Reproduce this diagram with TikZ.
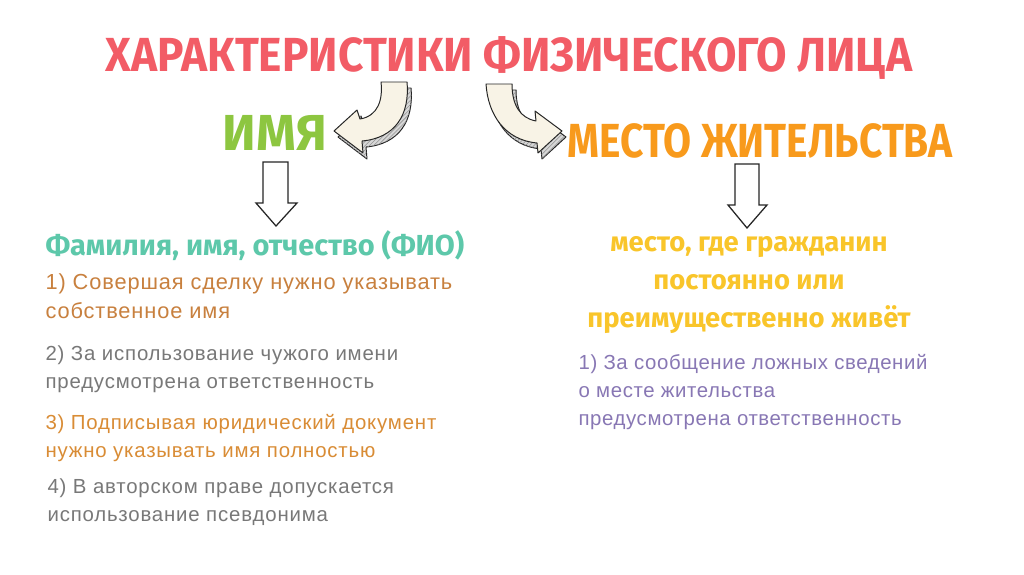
\documentclass[tikz,border=0pt]{standalone}
\usepackage{fontspec}
\setmainfont{Liberation Sans}
\newfontfamily\headfont{Fira Sans}
\usetikzlibrary{positioning, patterns}
\definecolor{cred}{HTML}{F25C66}
\definecolor{cgreen}{HTML}{8DC640}
\definecolor{corange}{HTML}{F89A1C}
\definecolor{cteal}{HTML}{5DC8AA}
\definecolor{cbrown}{HTML}{C8803E}
\definecolor{camber}{HTML}{D98C35}
\definecolor{cgrey}{HTML}{787878}
\definecolor{cyellow}{HTML}{F9C52A}
\definecolor{cpurple}{HTML}{8877B4}
\definecolor{ccream}{HTML}{F8F3E6}
\tikzset{
  every picture/.style={line width=0.8pt},
  head/.style={font=\headfont\bfseries\fontsize{#1}{#1}\selectfont, inner sep=0pt, anchor=base},
  head/.default=34,
  item/.style={text=#1, font=\fontsize{14.5}{19.9}\selectfont\addfontfeature{LetterSpace=4}, align=left, anchor=base west, inner sep=0pt},
  item/.default=cgrey,
  face/.style={draw=black!85, fill=ccream, line join=round, line width=0.7pt},
  side/.style={draw=black!85, fill=cgrey!30, line join=round, line width=0.7pt,
    postaction={pattern=north east lines, pattern color=cgrey!80}},
  hollow/.style={draw=black!85, fill=white, line join=miter, line width=0.9pt},
}

\begin{document}
\begin{tikzpicture}[x=0.025cm, y=-0.025cm]
  \useasboundingbox[fill=white] (0,0) rectangle (1024,574);

  % headings
  \node[head, text=cred] (title) at (509,71) {\scalebox{0.925}[1]{ХАРАКТЕРИСТИКИ ФИЗИЧЕСКОГО ЛИЦА}};
  \node[head=36, text=cgreen] (name) at (275,150) {ИМЯ};
  \node[head, text=corange] (home) at (760,157) {\scalebox{0.85}[1]{МЕСТО ЖИТЕЛЬСТВА}};

  % curved arrows from the title
  \foreach \dx/\dy/\sty in {4/6/side, 0/0/face} {
    \draw[\sty, shift={(\dx,\dy)}] (381,82) -- (407,82) .. controls (410,115) and (395,138) .. (362,141)
      -- (363,153) -- (334,131) -- (357,110) -- (360,119) .. controls (378,116) and (383,100) .. (381,82) -- cycle;
    \draw[\sty, shift={(\dx,\dy)}] (486,84) -- (512,84) .. controls (512,105) and (520,118) .. (536,121)
      -- (535,111) -- (562,131) -- (538,153) -- (537,143) .. controls (505,140) and (488,115) .. (486,84) -- cycle;
  }

  % down arrows
  \coordinate (a1) at (276,162);
  \coordinate (a2) at (747,164);
  \draw[hollow] (a1) ++(-13,0) -- ++(25,0) -- ++(0,41) -- ++(9,0) -- ++(-21,23) -- ++(-20,-23) -- ++(7,0) -- cycle;
  \draw[hollow] (a2) ++(-12,0) -- ++(24,0) -- ++(0,41) -- ++(8,0) -- ++(-20,23) -- ++(-19,-23) -- ++(7,0) -- cycle;

  % name (anchors sit on the last line)
  \node[head=20.6, anchor=base west, text=cteal] (fio) at (45,255) {Фамилия, имя, отчество (ФИО)};
  \node[item=cbrown, font=\fontsize{15.5}{20.3}\selectfont\addfontfeature{LetterSpace=4}] (n1) at (45,318) {1) Совершая сделку нужно указывать\\собственное имя};
  \node[item] (n2) at (45,388) {2) За использование чужого имени\\предусмотрена ответственность};
  \node[item=camber] (n3) at (45,457) {3) Подписывая юридический документ\\нужно указывать имя полностью};
  \node[item] (n4) at (47,521) {4) В авторском праве допускается\\использование псевдонима};

  % residence
  \node[head=19.5, text=cyellow, align=center, font=\headfont\bfseries\fontsize{19.5}{26.7}\selectfont] (def) at (749,327)
    {место, где гражданин\\постоянно или\\преимущественно живёт};
  \node[item=cpurple, font=\fontsize{14.5}{19.6}\selectfont\addfontfeature{LetterSpace=3}] (r1) at (578,425)
    {1) За сообщение ложных сведений\\о месте жительства\\предусмотрена ответственность};
\end{tikzpicture}
\end{document}
